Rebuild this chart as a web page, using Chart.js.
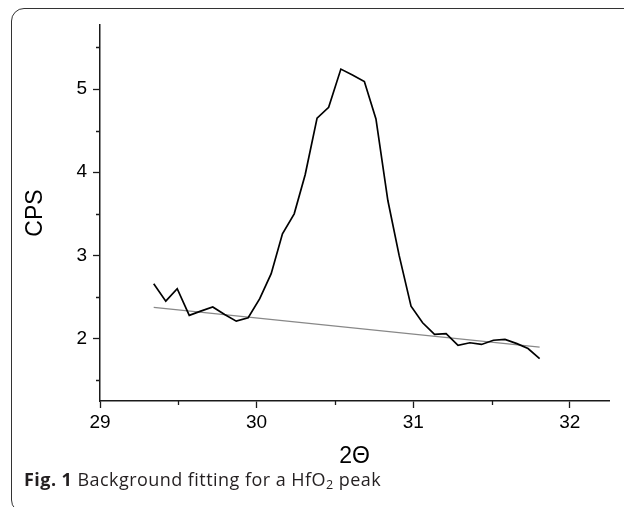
<!DOCTYPE html>
<html>
<head>
<meta charset="utf-8">
<script src="https://cdn.jsdelivr.net/npm/chart.js"></script>
<style>
  html, body { margin: 0; padding: 0; background: #fff; }
  body { width: 624px; height: 507px; position: relative; overflow: hidden; }
  .frame {
    position: absolute; left: 11px; top: 8px; width: 700px; height: 503px;
    border: 1.5px solid #333; border-radius: 13px;
  }
  .plot { position: absolute; left: 0; top: 0; width: 624px; height: 480px; }
  .caption {
    position: absolute; left: 24px; top: 467px;
    font-family: "Open Sans", sans-serif; font-size: 18px; letter-spacing: 0.45px;
    color: #231f20; white-space: nowrap;
  }
  .caption b { font-weight: 700; }
  .caption sub { font-size: 0.7em; vertical-align: -0.25em; }
</style>
</head>
<body>
<div class="frame"></div>
<div class="plot"><canvas id="xrd"></canvas></div>
<div class="caption"><b>Fig. 1</b> Background fitting for a HfO<sub>2</sub> peak</div>
<script>
const twoTheta = [29.343, 29.42, 29.493, 29.57, 29.643, 29.72, 29.796, 29.87, 29.946, 30.02,
  30.093, 30.165, 30.24, 30.31, 30.386, 30.46, 30.538, 30.612, 30.688, 30.762,
  30.838, 30.91, 30.986, 31.06, 31.136, 31.21, 31.286, 31.362, 31.436, 31.512,
  31.586, 31.662, 31.733, 31.807];
const cps = [2.66, 2.45, 2.60, 2.28, 2.33, 2.38, 2.29, 2.21, 2.25, 2.48,
  2.78, 3.26, 3.50, 3.97, 4.65, 4.78, 5.24, 5.17, 5.09, 4.64,
  3.66, 3.00, 2.39, 2.19, 2.05, 2.06, 1.92, 1.95, 1.93, 1.98,
  1.99, 1.94, 1.88, 1.76];

// linear background
const bgX = [29.343, 31.807];
const bgY = [2.376, 1.898];

const xMinor = [29.5, 30.5, 31.5];
const yMinor = [1.5, 2.5, 3.5, 4.5, 5.5];

const axisColor = '#1a1a1a';
const tickFont = { family: 'Liberation Sans, Arial, sans-serif', size: 19 };
const titleFont = { family: 'Liberation Sans, Arial, sans-serif', size: 23 };

const onlyWhole = scale => {
  scale.ticks = scale.ticks.filter(t => Math.abs(t.value - Math.round(t.value)) < 1e-6);
};

const minorTicks = {
  id: 'minorTicks',
  afterDraw(chart) {
    const ctx = chart.ctx;
    const xs = chart.scales.x, ys = chart.scales.y;
    ctx.save();
    ctx.strokeStyle = axisColor;
    ctx.lineWidth = 1.3;
    ctx.beginPath();
    xMinor.forEach(v => {
      const px = Math.round(xs.getPixelForValue(v)) + 0.5;
      ctx.moveTo(px, xs.top);
      ctx.lineTo(px, xs.top + 4);
    });
    yMinor.forEach(v => {
      const py = Math.round(ys.getPixelForValue(v)) + 0.5;
      ctx.moveTo(ys.right, py);
      ctx.lineTo(ys.right - 4, py);
    });
    ctx.stroke();
    ctx.restore();
  }
};

new Chart(document.getElementById('xrd'), {
  type: 'line',
  data: {
    datasets: [
      {
        label: 'CPS',
        data: twoTheta.map((x, i) => ({ x, y: cps[i] })),
        borderColor: '#000',
        borderWidth: 1.7,
        pointRadius: 0,
        tension: 0,
        fill: false
      },
      {
        label: 'background',
        data: bgX.map((x, i) => ({ x, y: bgY[i] })),
        borderColor: '#888',
        borderWidth: 1.2,
        pointRadius: 0,
        tension: 0,
        fill: false
      }
    ]
  },
  options: {
    responsive: true,
    maintainAspectRatio: false,
    animation: false,
    layout: { padding: { top: 25, right: 15, left: 0, bottom: 0 } },
    plugins: { legend: { display: false }, tooltip: { enabled: false } },
    scales: {
      x: {
        type: 'linear',
        min: 29,
        max: 32.25,
        afterBuildTicks: onlyWhole,
        afterFit: s => { s.height = 79; },
        ticks: { stepSize: 1, includeBounds: false, color: '#000', font: tickFont, padding: 3, maxRotation: 0 },
        grid: { drawOnChartArea: false, tickLength: 7, tickColor: axisColor, tickWidth: 1.3 },
        border: { color: axisColor, width: 1.5 },
        title: { display: true, text: '2\u0398', color: '#000', font: titleFont, padding: { top: 0, bottom: 10 } }
      },
      y: {
        min: 1.25,
        max: 5.77,
        afterBuildTicks: onlyWhole,
        afterFit: s => { s.width = 100; },
        ticks: { stepSize: 1, includeBounds: false, color: '#000', font: tickFont, padding: 6 },
        grid: { drawOnChartArea: false, tickLength: 7, tickColor: axisColor, tickWidth: 1.3 },
        border: { color: axisColor, width: 1.5 },
        title: { display: true, text: 'CPS', color: '#000', font: titleFont, padding: { top: 22, bottom: 0 } }
      }
    }
  },
  plugins: [minorTicks]
});
</script>
</body>
</html>
